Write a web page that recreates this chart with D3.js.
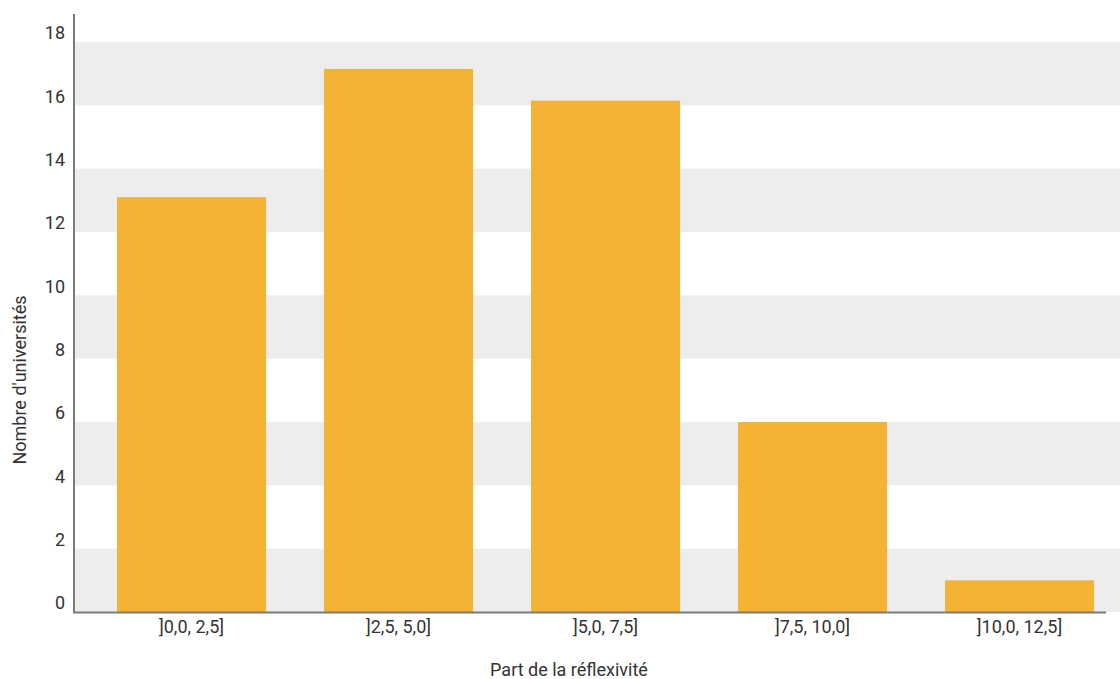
<!DOCTYPE html>
<html><head><meta charset="utf-8">
<script src="https://cdn.jsdelivr.net/npm/d3@7"></script>
<style>
html,body{margin:0;padding:0;background:#fff;}
svg{display:block;font-family:Roboto,"Noto Sans",sans-serif;}
</style></head>
<body><svg id="c" width="1120" height="679"></svg>
<script>
const categories = ["]0,0, 2,5]", "]2,5, 5,0]", "]5,0, 7,5]", "]7,5, 10,0]", "]10,0, 12,5]"];
const values = [13.1, 17.15, 16.15, 6, 1];
const yTicks = [0, 2, 4, 6, 8, 10, 12, 14, 16, 18];
const bandStarts = [0, 4, 8, 12, 16];
const xTitle = "Part de la réflexivité";
const yTitle = "Nombre d'universités";

const svg = d3.select("#c");
const y = d3.scaleLinear().domain([0, 18]).range([612, 42]);
const x = d3.scaleBand().domain(categories).range([88, 1123]).paddingInner(0.28).paddingOuter(0.14);

// background bands
svg.append("g").selectAll("rect").data(bandStarts).join("rect")
  .attr("x", 75).attr("width", 1120 - 75)
  .attr("y", d => y(d + 2)).attr("height", d => y(d) - y(d + 2))
  .attr("fill", "#ededed");

// bars
svg.append("g").selectAll("rect").data(values).join("rect")
  .attr("x", (d, i) => x(categories[i])).attr("width", x.bandwidth())
  .attr("y", d => y(d)).attr("height", d => y(0) - y(d))
  .attr("fill", "#f5b335");

// y axis
const yAxis = svg.append("g").attr("transform", "translate(74,0)")
  .call(d3.axisLeft(y).tickValues(yTicks).tickSize(0).tickPadding(9));
yAxis.select(".domain").remove();
yAxis.selectAll("text").attr("font-size", 18).attr("fill", "#333")
  .attr("font-family", "Roboto").attr("dy", "-0.17em");
svg.append("line").attr("x1", 74).attr("x2", 74).attr("y1", 14).attr("y2", 613)
  .attr("stroke", "#7a7a7a").attr("stroke-width", 2);

// x axis
const xAxis = svg.append("g").attr("transform", "translate(0,612)")
  .call(d3.axisBottom(x).tickSize(0).tickPadding(6));
xAxis.select(".domain").remove();
xAxis.selectAll("text").attr("font-size", 18).attr("fill", "#333")
  .attr("font-family", "Roboto").attr("dy", "0.85em");
svg.append("line").attr("x1", 73).attr("x2", 1106).attr("y1", 612.5).attr("y2", 612.5)
  .attr("stroke", "#7a7a7a").attr("stroke-width", 2);

// titles
svg.append("text").attr("x", 569).attr("y", 676).attr("text-anchor", "middle")
  .attr("font-size", 18).attr("fill", "#333").text(xTitle);
svg.append("text").attr("transform", "translate(26,380) rotate(-90)").attr("text-anchor", "middle")
  .attr("font-size", 18).attr("fill", "#333").text(yTitle);
</script></body></html>
